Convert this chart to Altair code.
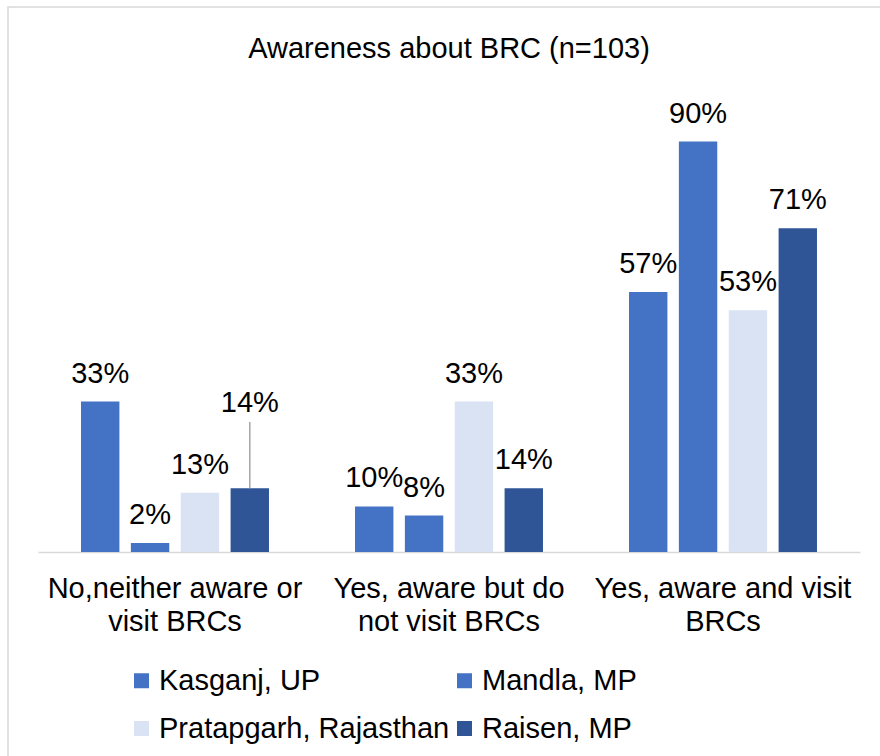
import json
import altair as alt
import pandas as pd

# ---- data -------------------------------------------------------------
categories = [
    "No,neither aware or visit BRCs",
    "Yes, aware but do not visit BRCs",
    "Yes, aware and visit BRCs",
]
category_lines = [
    ["No,neither aware or", "visit BRCs"],
    ["Yes, aware but do", "not visit BRCs"],
    ["Yes, aware and visit", "BRCs"],
]
series = ["Kasganj, UP", "Mandla, MP", "Pratapgarh, Rajasthan", "Raisen, MP"]
colors = ["#4472C4", "#4472C4", "#DAE3F3", "#2F5597"]

kasganj = [33, 10, 57]
mandla = [2, 8, 90]
pratapgarh = [13, 33, 53]
raisen = [14, 14, 71]

title_text = "Awareness about BRC (n=103)"

# label that is lifted with a leader line
leader_category = categories[0]
leader_series = series[3]

rows = []
for s, vals in zip(series, [kasganj, mandla, pratapgarh, raisen]):
    for c, v in zip(categories, vals):
        rows.append({"category": c, "series": s, "value": v})
df = pd.DataFrame(rows)

FONT = "Liberation Sans"
FS = 29

label_expr = ""
for c, lines in zip(categories[:-1], category_lines[:-1]):
    label_expr += f"datum.value == {json.dumps(c)} ? {json.dumps(lines)} : "
label_expr += json.dumps(category_lines[-1])

x_enc = alt.X(
    "category:N",
    sort=categories,
    scale=alt.Scale(paddingInner=0.314, paddingOuter=0.157),
    axis=alt.Axis(
        title=None,
        labelExpr=label_expr,
        labelAngle=0,
        labelFontSize=FS,
        labelFont=FONT,
        labelColor="black",
        labelLineHeight=33,
        labelBaseline="alphabetic",
        labelPadding=45,
        labelLimit=500,
        ticks=False,
        domainColor="#d9d9d9",
        domainWidth=1.5,
    ),
)
xoff_enc = alt.XOffset(
    "series:N", sort=series, scale=alt.Scale(paddingInner=0.23, paddingOuter=0)
)
y_scale = alt.Scale(domain=[0, 100], nice=False)

base = alt.Chart(df)

bars = base.mark_bar().encode(
    x=x_enc,
    xOffset=xoff_enc,
    y=alt.Y("value:Q", scale=y_scale, axis=None),
    color=alt.Color(
        "series:N",
        sort=series,
        scale=alt.Scale(domain=series, range=colors),
        legend=alt.Legend(
            title=None,
            orient="none",
            direction="horizontal",
            legendX=89,
            legendY=570,
            columns=2,
            symbolType="square",
            symbolSize=225,
            symbolStrokeWidth=0,
            labelFontSize=FS,
            labelFont=FONT,
            labelColor="black",
            labelOffset=3,
            columnPadding=0,
            rowPadding=18,
            labelLimit=500,
            padding=0,
        ),
    ),
)

lift_cond = (
    f"(datum.category == {json.dumps(leader_category)} && "
    f"datum.series == {json.dumps(leader_series)})"
)

labels = (
    base.transform_calculate(
        label_y=f"datum.value + ({lift_cond} ? 12.5 : 0)",
        label="datum.value + '%'",
    )
    .mark_text(
        font=FONT, fontSize=FS, color="black", baseline="alphabetic", dy=-19
    )
    .encode(
        x=alt.X("category:N", sort=categories),
        xOffset=alt.XOffset("series:N", sort=series),
        y=alt.Y("label_y:Q", scale=y_scale),
        text="label:N",
    )
)

leader = (
    base.transform_filter(lift_cond)
    .transform_calculate(rule_top="datum.value + 14.5")
    .mark_rule(color="#a6a6a6", strokeWidth=1.5)
    .encode(
        x=alt.X("category:N", sort=categories),
        xOffset=alt.XOffset("series:N", sort=series),
        y=alt.Y("value:Q", scale=y_scale),
        y2="rule_top:Q",
    )
)

single = alt.Chart(pd.DataFrame({"one": [0]}))

border = single.mark_rect(fillOpacity=0, stroke="#d9d9d9", strokeWidth=1.5).encode(
    x=alt.value(-30), x2=alt.value(900), y=alt.value(-89), y2=alt.value(800)
)

title = single.mark_text(
    font=FONT, fontSize=FS, color="black", baseline="alphabetic", align="center"
).encode(x=alt.value(411), y=alt.value(-38), text=alt.value(title_text))

chart = (
    alt.layer(border, bars, leader, labels, title)
    .properties(
        width=822,
        height=456,
        autosize=alt.AutoSizeParams(type="none"),
        padding={"left": 38, "top": 96, "right": 20, "bottom": 204},
        background="white",
    )
    .configure_view(strokeWidth=0)
)

chart.save("out.html", embed_options={"renderer": "svg", "actions": False})
